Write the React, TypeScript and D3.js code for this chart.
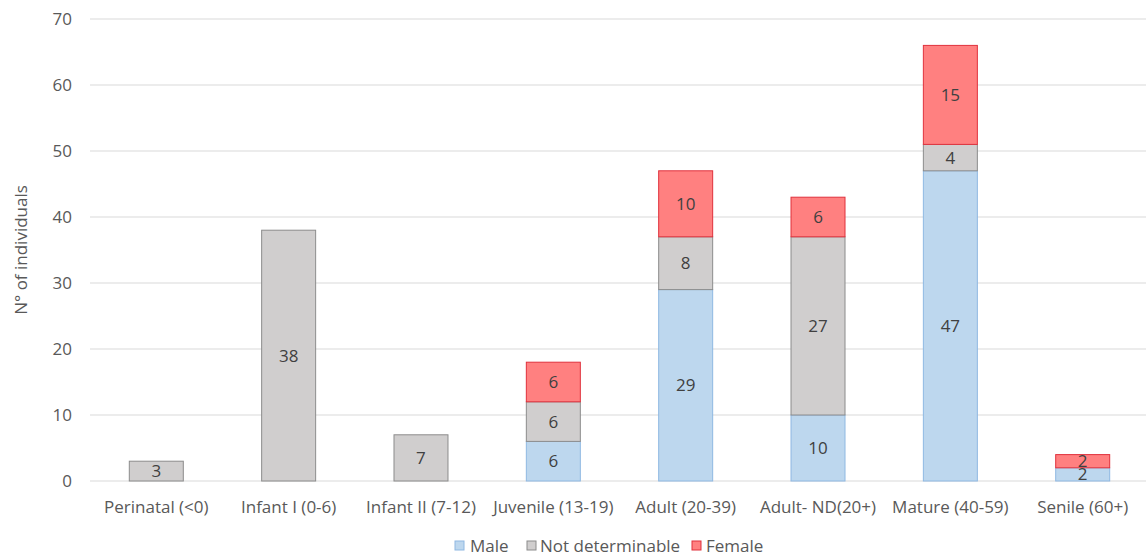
import React from "react";
import * as d3 from "d3";

const categories = [
  "Perinatal (<0)",
  "Infant I (0-6)",
  "Infant II (7-12)",
  "Juvenile (13-19)",
  "Adult (20-39)",
  "Adult- ND(20+)",
  "Mature (40-59)",
  "Senile (60+)",
];
const male = [0, 0, 0, 6, 29, 10, 47, 2];
const notDeterminable = [3, 38, 7, 6, 8, 27, 4, 0];
const female = [0, 0, 0, 6, 10, 6, 15, 2];
const yTicks = [0, 10, 20, 30, 40, 50, 60, 70];
const seriesNames = ["Male", "Not determinable", "Female"];

const W = 1146;
const H = 556;
const FONT = "'Open Sans', 'Liberation Sans', sans-serif";
const FS = 17;

const styles = [
  { fill: "#BDD7EE", stroke: "#8FB8E2" },
  { fill: "#D0CECE", stroke: "#8C8C8C" },
  { fill: "#FF8080", stroke: "#E0313C" },
];

export default function App() {
  const x = d3
    .scaleBand<string>()
    .domain(categories)
    .range([90, 1149])
    .paddingInner(0.592)
    .paddingOuter(0.297);
  const y = d3.scaleLinear().domain([0, 70]).range([481, 19]);

  const rows = categories.map((c, i) => ({
    cat: c,
    Male: male[i],
    "Not determinable": notDeterminable[i],
    Female: female[i],
  }));
  const stack = d3.stack<any>().keys(seriesNames)(rows);

  return (
    <svg
      width={W}
      height={H}
      style={{ position: "absolute", left: 0, top: 0, background: "#fff" }}
      fontFamily={FONT}
    >
      {yTicks.map((t) => (
        <g key={t}>
          <line
            x1={90}
            x2={1146}
            y1={y(t)}
            y2={y(t)}
            stroke="#D9D9D9"
            strokeWidth={1}
          />
          <text
            x={72}
            y={y(t)}
            dy="0.35em"
            textAnchor="end"
            fontSize={FS}
            fill="#595959"
          >
            {t}
          </text>
        </g>
      ))}
      {stack.map((s, si) =>
        s.map((d, i) => {
          const v = d[1] - d[0];
          if (v <= 0) return null;
          const bx = x(categories[i])!;
          const y0 = y(d[0]);
          const y1 = y(d[1]);
          return (
            <rect
              key={si + "-" + i}
              x={bx}
              y={y1}
              width={x.bandwidth()}
              height={y0 - y1}
              fill={styles[si].fill}
              stroke={styles[si].stroke}
              strokeWidth={1}
            />
          );
        })
      )}
      {stack.map((s, si) =>
        s.map((d, i) => {
          const v = d[1] - d[0];
          if (v <= 0) return null;
          const cx = x(categories[i])! + x.bandwidth() / 2;
          const cy = (y(d[0]) + y(d[1])) / 2;
          return (
            <text
              key={"l" + si + "-" + i}
              x={cx}
              y={cy}
              dy="0.35em"
              textAnchor="middle"
              fontSize={FS}
              fill="#404040"
            >
              {v}
            </text>
          );
        })
      )}
      {categories.map((c) => (
        <text
          key={c}
          x={x(c)! + x.bandwidth() / 2}
          y={507}
          dy="0.35em"
          textAnchor="middle"
          fontSize={FS}
          fill="#595959"
        >
          {c}
        </text>
      ))}
      <text
        transform={`translate(21,250) rotate(-90)`}
        textAnchor="middle"
        dy="0.35em"
        fontSize={FS}
        fill="#595959"
      >
        N° of individuals
      </text>
      {(() => {
        const items = [
          { name: "Male", sx: 455, tx: 470 },
          { name: "Not determinable", sx: 527, tx: 540 },
          { name: "Female", sx: 692, tx: 706 },
        ];
        return items.map((it, i) => (
          <g key={it.name}>
            <rect
              x={it.sx}
              y={541}
              width={9}
              height={9}
              fill={styles[i].fill}
              stroke={styles[i].stroke}
            />
            <text
              x={it.tx}
              y={546}
              dy="0.35em"
              fontSize={FS}
              fill="#595959"
            >
              {it.name}
            </text>
          </g>
        ));
      })()}
    </svg>
  );
}
